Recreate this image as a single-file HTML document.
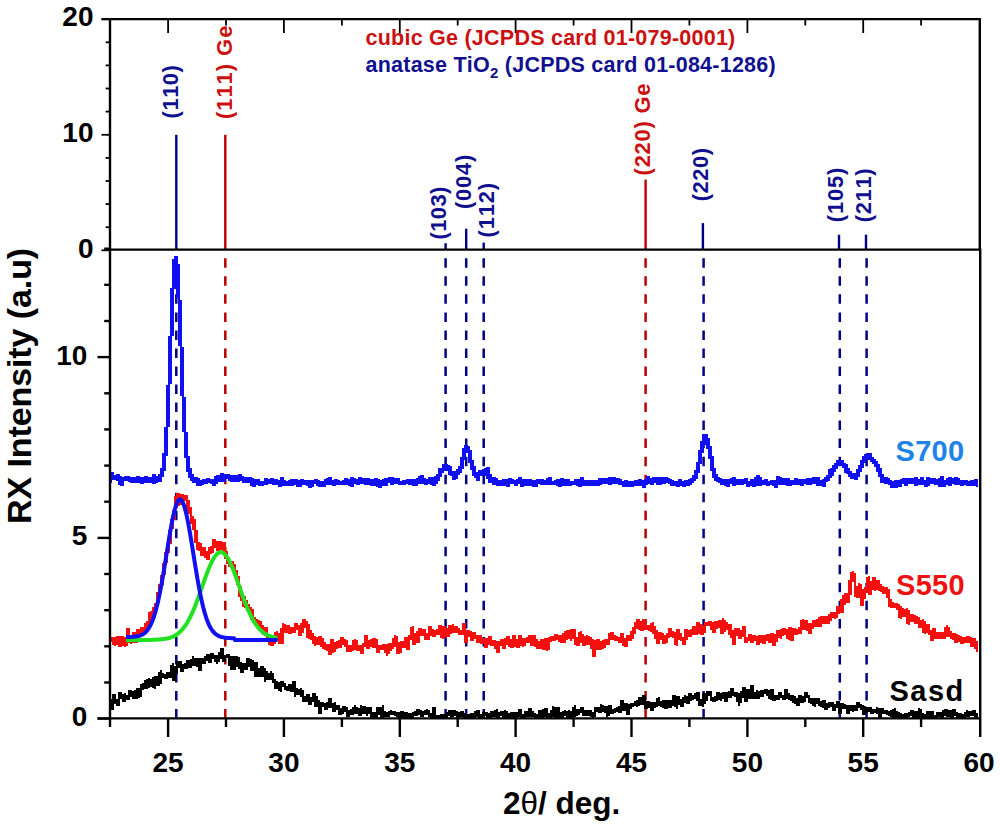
<!DOCTYPE html><html><head><meta charset="utf-8"><style>html,body{margin:0;padding:0;background:#fff}svg{display:block}text{font-kerning:none;font-feature-settings:"kern" 0}</style></head><body><svg width="1000" height="826" viewBox="0 0 1000 826">
<rect width="1000" height="826" fill="#fff"/>
<line x1="176.3" y1="134.8" x2="176.3" y2="250.0" stroke="#000085" stroke-width="2.4"/>
<line x1="225.3" y1="134.8" x2="225.3" y2="250.0" stroke="#b80000" stroke-width="2.4"/>
<line x1="445.6" y1="243.2" x2="445.6" y2="250.0" stroke="#000085" stroke-width="2.4"/>
<line x1="466.2" y1="228.7" x2="466.2" y2="250.0" stroke="#000085" stroke-width="2.4"/>
<line x1="483.7" y1="242.6" x2="483.7" y2="250.0" stroke="#000085" stroke-width="2.4"/>
<line x1="645.6" y1="179.6" x2="645.6" y2="250.0" stroke="#b80000" stroke-width="2.4"/>
<line x1="702.9" y1="223.1" x2="702.9" y2="250.0" stroke="#000085" stroke-width="2.4"/>
<line x1="839.0" y1="234.7" x2="839.0" y2="250.0" stroke="#000085" stroke-width="2.4"/>
<line x1="866.0" y1="234.7" x2="866.0" y2="250.0" stroke="#000085" stroke-width="2.4"/>
<line x1="176.3" y1="258.3" x2="176.3" y2="718.0" stroke="#000085" stroke-width="2.5" stroke-dasharray="9.5 8.53"/>
<line x1="225.3" y1="258.3" x2="225.3" y2="718.0" stroke="#b80000" stroke-width="2.5" stroke-dasharray="9.5 8.53"/>
<line x1="445.6" y1="258.3" x2="445.6" y2="718.0" stroke="#000085" stroke-width="2.5" stroke-dasharray="9.5 8.53"/>
<line x1="466.2" y1="258.3" x2="466.2" y2="718.0" stroke="#000085" stroke-width="2.5" stroke-dasharray="9.5 8.53"/>
<line x1="483.7" y1="258.3" x2="483.7" y2="718.0" stroke="#000085" stroke-width="2.5" stroke-dasharray="9.5 8.53"/>
<line x1="645.6" y1="258.3" x2="645.6" y2="718.0" stroke="#b80000" stroke-width="2.5" stroke-dasharray="9.5 8.53"/>
<line x1="703.6" y1="258.3" x2="703.6" y2="718.0" stroke="#000085" stroke-width="2.5" stroke-dasharray="9.5 8.53"/>
<line x1="839.8" y1="258.3" x2="839.8" y2="718.0" stroke="#000085" stroke-width="2.5" stroke-dasharray="9.5 8.53"/>
<line x1="866.6" y1="258.3" x2="866.6" y2="718.0" stroke="#000085" stroke-width="2.5" stroke-dasharray="9.5 8.53"/>
<path d="M110 699h2v11h-2zM112 694h2v16h-2zM114 694h2v10h-2zM116 699h2v7h-2zM118 692h2v14h-2zM120 692h2v7h-2zM122 694h2v8h-2zM124 693h2v9h-2zM126 695h2v5h-2zM128 690h2v10h-2zM130 690h2v7h-2zM132 691h2v8h-2zM134 690h2v9h-2zM136 688h2v11h-2zM138 688h2v10h-2zM140 684h2v13h-2zM142 683h2v7h-2zM144 680h2v9h-2zM146 679h2v10h-2zM148 678h2v10h-2zM150 679h2v8h-2zM152 677h2v11h-2zM154 676h2v13h-2zM156 676h2v10h-2zM158 672h2v14h-2zM160 670h2v14h-2zM162 673h2v5h-2zM164 674h2v5h-2zM166 672h2v7h-2zM168 672h2v6h-2zM170 665h2v13h-2zM172 663h2v18h-2zM174 666h2v15h-2zM176 661h2v13h-2zM178 661h2v7h-2zM180 661h2v11h-2zM182 664h2v8h-2zM184 663h2v6h-2zM186 660h2v9h-2zM188 660h2v8h-2zM190 659h2v9h-2zM192 656h2v10h-2zM194 658h2v8h-2zM196 658h2v9h-2zM198 658h2v13h-2zM200 658h2v13h-2zM202 658h2v6h-2zM204 656h2v8h-2zM206 654h2v7h-2zM208 654h2v9h-2zM210 653h2v10h-2zM212 653h2v6h-2zM214 655h2v7h-2zM216 655h2v9h-2zM218 652h2v10h-2zM220 648h2v11h-2zM222 648h2v14h-2zM224 655h2v7h-2zM226 654h2v4h-2zM228 654h2v12h-2zM230 656h2v14h-2zM232 656h2v14h-2zM234 656h2v14h-2zM236 656h2v11h-2zM238 657h2v12h-2zM240 662h2v11h-2zM242 663h2v10h-2zM244 663h2v7h-2zM246 658h2v12h-2zM248 658h2v9h-2zM250 659h2v12h-2zM252 660h2v11h-2zM254 662h2v15h-2zM256 662h2v15h-2zM258 668h2v9h-2zM260 666h2v11h-2zM262 666h2v11h-2zM264 668h2v14h-2zM266 671h2v9h-2zM268 673h2v7h-2zM270 671h2v9h-2zM272 673h2v10h-2zM274 679h2v10h-2zM276 681h2v8h-2zM278 682h2v9h-2zM280 681h2v11h-2zM282 681h2v6h-2zM284 683h2v7h-2zM286 686h2v5h-2zM288 684h2v7h-2zM290 684h2v8h-2zM292 681h2v11h-2zM294 681h2v16h-2zM296 688h2v7h-2zM298 689h2v6h-2zM300 688h2v9h-2zM302 690h2v12h-2zM304 696h2v6h-2zM306 694h2v8h-2zM308 694h2v11h-2zM310 697h2v8h-2zM312 693h2v9h-2zM314 693h2v14h-2zM316 696h2v11h-2zM318 700h2v14h-2zM320 702h2v12h-2zM322 702h2v5h-2zM324 703h2v7h-2zM326 702h2v8h-2zM328 698h2v10h-2zM330 698h2v10h-2zM332 703h2v9h-2zM334 702h2v10h-2zM336 705h2v5h-2zM338 705h2v10h-2zM340 708h2v7h-2zM342 706h2v8h-2zM344 706h2v6h-2zM346 707h2v10h-2zM348 710h2v7h-2zM350 709h2v6h-2zM352 707h2v8h-2zM354 705h2v9h-2zM356 707h2v7h-2zM358 708h2v8h-2zM360 705h2v11h-2zM362 706h2v8h-2zM364 706h2v8h-2zM366 707h2v9h-2zM368 707h2v7h-2zM370 707h2v12h-2zM372 712h2v7h-2zM374 712h2v7h-2zM376 707h2v12h-2zM378 707h2v8h-2zM380 707h2v12h-2zM382 705h2v14h-2zM384 711h2v6h-2zM386 712h2v5h-2zM388 711h2v6h-2zM390 710h2v5h-2zM392 711h2v4h-2zM394 711h2v5h-2zM396 712h2v5h-2zM398 712h2v6h-2zM400 711h2v8h-2zM402 711h2v8h-2zM404 712h2v7h-2zM406 712h2v7h-2zM408 713h2v6h-2zM410 713h2v6h-2zM412 712h2v7h-2zM414 711h2v5h-2zM416 709h2v7h-2zM418 709h2v6h-2zM420 710h2v7h-2zM422 711h2v6h-2zM424 710h2v5h-2zM426 709h2v6h-2zM428 710h2v7h-2zM430 713h2v5h-2zM432 707h2v11h-2zM434 707h2v12h-2zM436 715h2v4h-2zM438 715h2v4h-2zM440 714h2v5h-2zM442 714h2v5h-2zM444 714h2v5h-2zM446 712h2v6h-2zM448 710h2v6h-2zM450 710h2v8h-2zM452 710h2v7h-2zM454 710h2v6h-2zM456 711h2v8h-2zM458 712h2v6h-2zM460 711h2v6h-2zM462 711h2v8h-2zM464 713h2v5h-2zM466 714h2v5h-2zM468 714h2v5h-2zM470 713h2v5h-2zM472 713h2v6h-2zM474 711h2v8h-2zM476 710h2v7h-2zM478 710h2v8h-2zM480 714h2v4h-2zM482 712h2v6h-2zM484 712h2v4h-2zM486 712h2v7h-2zM488 713h2v6h-2zM490 711h2v8h-2zM492 711h2v6h-2zM494 710h2v7h-2zM496 709h2v10h-2zM498 712h2v7h-2zM500 711h2v5h-2zM502 711h2v7h-2zM504 710h2v8h-2zM506 711h2v7h-2zM508 713h2v6h-2zM510 712h2v6h-2zM512 712h2v7h-2zM514 712h2v7h-2zM516 712h2v6h-2zM518 709h2v8h-2zM520 709h2v10h-2zM522 714h2v5h-2zM524 711h2v7h-2zM526 711h2v6h-2zM528 708h2v9h-2zM530 708h2v9h-2zM532 711h2v6h-2zM534 713h2v5h-2zM536 714h2v4h-2zM538 710h2v8h-2zM540 710h2v8h-2zM542 709h2v9h-2zM544 708h2v9h-2zM546 708h2v11h-2zM548 713h2v6h-2zM550 710h2v8h-2zM552 706h2v11h-2zM554 707h2v11h-2zM556 707h2v11h-2zM558 707h2v11h-2zM560 712h2v6h-2zM562 711h2v7h-2zM564 710h2v6h-2zM566 711h2v7h-2zM568 710h2v8h-2zM570 711h2v7h-2zM572 707h2v11h-2zM574 705h2v12h-2zM576 709h2v7h-2zM578 709h2v6h-2zM580 707h2v6h-2zM582 707h2v9h-2zM584 710h2v6h-2zM586 710h2v6h-2zM588 710h2v6h-2zM590 710h2v7h-2zM592 712h2v6h-2zM594 707h2v10h-2zM596 707h2v5h-2zM598 707h2v6h-2zM600 704h2v9h-2zM602 705h2v7h-2zM604 706h2v7h-2zM606 706h2v11h-2zM608 705h2v11h-2zM610 705h2v9h-2zM612 709h2v5h-2zM614 708h2v5h-2zM616 707h2v5h-2zM618 706h2v7h-2zM620 700h2v13h-2zM622 700h2v11h-2zM624 703h2v8h-2zM626 703h2v12h-2zM628 704h2v11h-2zM630 703h2v6h-2zM632 703h2v4h-2zM634 701h2v5h-2zM636 700h2v7h-2zM638 697h2v9h-2zM640 697h2v8h-2zM642 695h2v10h-2zM644 695h2v14h-2zM646 701h2v8h-2zM648 701h2v7h-2zM650 702h2v9h-2zM652 702h2v9h-2zM654 702h2v6h-2zM656 698h2v9h-2zM658 697h2v9h-2zM660 701h2v6h-2zM662 700h2v8h-2zM664 700h2v9h-2zM666 700h2v9h-2zM668 700h2v8h-2zM670 700h2v8h-2zM672 695h2v11h-2zM674 695h2v12h-2zM676 696h2v13h-2zM678 696h2v9h-2zM680 699h2v8h-2zM682 697h2v10h-2zM684 695h2v8h-2zM686 696h2v8h-2zM688 693h2v11h-2zM690 693h2v8h-2zM692 695h2v5h-2zM694 693h2v6h-2zM696 692h2v9h-2zM698 692h2v14h-2zM700 699h2v7h-2zM702 693h2v14h-2zM704 693h2v11h-2zM706 691h2v10h-2zM708 691h2v5h-2zM710 691h2v10h-2zM712 697h2v5h-2zM714 696h2v6h-2zM716 692h2v9h-2zM718 692h2v8h-2zM720 693h2v8h-2zM722 692h2v7h-2zM724 692h2v10h-2zM726 692h2v10h-2zM728 691h2v7h-2zM730 688h2v10h-2zM732 688h2v8h-2zM734 692h2v5h-2zM736 692h2v10h-2zM738 693h2v13h-2zM740 691h2v12h-2zM742 687h2v11h-2zM744 687h2v15h-2zM746 689h2v13h-2zM748 689h2v10h-2zM750 685h2v14h-2zM752 685h2v14h-2zM754 692h2v7h-2zM756 690h2v9h-2zM758 691h2v8h-2zM760 690h2v7h-2zM762 690h2v7h-2zM764 689h2v5h-2zM766 689h2v7h-2zM768 690h2v9h-2zM770 689h2v11h-2zM772 689h2v12h-2zM774 695h2v6h-2zM776 695h2v5h-2zM778 692h2v8h-2zM780 692h2v6h-2zM782 695h2v5h-2zM784 689h2v11h-2zM786 689h2v10h-2zM788 693h2v7h-2zM790 695h2v6h-2zM792 695h2v8h-2zM794 696h2v8h-2zM796 698h2v8h-2zM798 695h2v11h-2zM800 695h2v8h-2zM802 696h2v7h-2zM804 692h2v10h-2zM806 692h2v6h-2zM808 695h2v8h-2zM810 698h2v6h-2zM812 698h2v8h-2zM814 698h2v9h-2zM816 698h2v6h-2zM818 698h2v8h-2zM820 701h2v6h-2zM822 700h2v8h-2zM824 700h2v10h-2zM826 703h2v7h-2zM828 702h2v6h-2zM830 702h2v5h-2zM832 702h2v9h-2zM834 704h2v7h-2zM836 701h2v7h-2zM838 701h2v13h-2zM840 703h2v11h-2zM842 703h2v6h-2zM844 704h2v5h-2zM846 705h2v9h-2zM848 705h2v9h-2zM850 705h2v6h-2zM852 705h2v7h-2zM854 705h2v6h-2zM856 702h2v9h-2zM858 702h2v6h-2zM860 704h2v6h-2zM862 705h2v10h-2zM864 706h2v9h-2zM866 707h2v6h-2zM868 707h2v5h-2zM870 707h2v7h-2zM872 709h2v5h-2zM874 709h2v4h-2zM876 707h2v7h-2zM878 708h2v10h-2zM880 708h2v10h-2zM882 708h2v6h-2zM884 710h2v4h-2zM886 710h2v5h-2zM888 711h2v5h-2zM890 710h2v7h-2zM892 709h2v9h-2zM894 708h2v11h-2zM896 711h2v8h-2zM898 712h2v7h-2zM900 713h2v6h-2zM902 714h2v4h-2zM904 713h2v5h-2zM906 713h2v5h-2zM908 712h2v5h-2zM910 710h2v6h-2zM912 710h2v9h-2zM914 711h2v8h-2zM916 711h2v7h-2zM918 708h2v10h-2zM920 709h2v9h-2zM922 713h2v6h-2zM924 714h2v5h-2zM926 711h2v8h-2zM928 711h2v8h-2zM930 711h2v8h-2zM932 711h2v7h-2zM934 715h2v4h-2zM936 712h2v7h-2zM938 712h2v5h-2zM940 712h2v7h-2zM942 710h2v9h-2zM944 709h2v7h-2zM946 709h2v8h-2zM948 710h2v7h-2zM950 710h2v8h-2zM952 709h2v9h-2zM954 709h2v7h-2zM956 712h2v6h-2zM958 713h2v5h-2zM960 713h2v6h-2zM962 714h2v5h-2zM964 712h2v7h-2zM966 710h2v7h-2zM968 711h2v6h-2zM970 711h2v5h-2zM972 710h2v6h-2zM974 710h2v8h-2zM976 713h2v5h-2z" fill="#000" shape-rendering="crispEdges"/>
<path d="M110 637h2v5h-2zM112 637h2v8h-2zM114 637h2v9h-2zM116 636h2v9h-2zM118 636h2v11h-2zM120 636h2v11h-2zM122 636h2v10h-2zM124 637h2v10h-2zM126 628h2v18h-2zM128 628h2v15h-2zM130 635h2v9h-2zM132 632h2v11h-2zM134 632h2v11h-2zM136 629h2v14h-2zM138 629h2v5h-2zM140 627h2v7h-2zM142 627h2v6h-2zM144 623h2v9h-2zM146 621h2v10h-2zM148 612h2v16h-2zM150 611h2v12h-2zM152 607h2v11h-2zM154 603h2v15h-2zM156 592h2v16h-2zM158 584h2v19h-2zM160 575h2v18h-2zM162 563h2v22h-2zM164 552h2v23h-2zM166 543h2v20h-2zM168 530h2v23h-2zM170 519h2v25h-2zM172 510h2v19h-2zM174 496h2v24h-2zM176 493h2v15h-2zM178 493h2v13h-2zM180 494h2v11h-2zM182 494h2v7h-2zM184 495h2v6h-2zM186 495h2v17h-2zM188 500h2v14h-2zM190 507h2v17h-2zM192 516h2v14h-2zM194 519h2v24h-2zM196 530h2v20h-2zM198 542h2v9h-2zM200 543h2v13h-2zM202 547h2v9h-2zM204 547h2v11h-2zM206 551h2v9h-2zM208 547h2v13h-2zM210 546h2v8h-2zM212 539h2v14h-2zM214 539h2v9h-2zM216 541h2v10h-2zM218 541h2v10h-2zM220 541h2v9h-2zM222 542h2v9h-2zM224 542h2v17h-2zM226 551h2v13h-2zM228 557h2v10h-2zM230 561h2v6h-2zM232 561h2v11h-2zM234 564h2v13h-2zM236 570h2v15h-2zM238 576h2v21h-2zM240 586h2v15h-2zM242 594h2v13h-2zM244 596h2v12h-2zM246 600h2v11h-2zM248 604h2v8h-2zM250 607h2v13h-2zM252 609h2v14h-2zM254 617h2v7h-2zM256 619h2v6h-2zM258 620h2v9h-2zM260 621h2v10h-2zM262 625h2v10h-2zM264 627h2v9h-2zM266 627h2v14h-2zM268 634h2v11h-2zM270 638h2v8h-2zM272 637h2v9h-2zM274 632h2v12h-2zM276 631h2v10h-2zM278 633h2v11h-2zM280 628h2v16h-2zM282 623h2v21h-2zM284 624h2v9h-2zM286 625h2v8h-2zM288 625h2v9h-2zM290 627h2v7h-2zM292 627h2v6h-2zM294 623h2v10h-2zM296 623h2v7h-2zM298 625h2v11h-2zM300 623h2v13h-2zM302 619h2v14h-2zM304 619h2v9h-2zM306 621h2v17h-2zM308 624h2v15h-2zM310 630h2v10h-2zM312 633h2v11h-2zM314 636h2v10h-2zM316 637h2v8h-2zM318 636h2v9h-2zM320 636h2v11h-2zM322 638h2v11h-2zM324 642h2v8h-2zM326 644h2v7h-2zM328 644h2v11h-2zM330 639h2v16h-2zM332 639h2v14h-2zM334 642h2v10h-2zM336 641h2v8h-2zM338 640h2v8h-2zM340 637h2v11h-2zM342 637h2v8h-2zM344 639h2v8h-2zM346 640h2v12h-2zM348 645h2v7h-2zM350 645h2v7h-2zM352 640h2v11h-2zM354 639h2v11h-2zM356 640h2v11h-2zM358 645h2v6h-2zM360 645h2v9h-2zM362 643h2v11h-2zM364 635h2v12h-2zM366 635h2v14h-2zM368 640h2v9h-2zM370 639h2v8h-2zM372 638h2v10h-2zM374 638h2v10h-2zM376 639h2v14h-2zM378 645h2v8h-2zM380 645h2v5h-2zM382 644h2v6h-2zM384 644h2v9h-2zM386 644h2v12h-2zM388 643h2v11h-2zM390 643h2v8h-2zM392 638h2v11h-2zM394 635h2v12h-2zM396 636h2v18h-2zM398 642h2v12h-2zM400 641h2v12h-2zM402 641h2v7h-2zM404 637h2v11h-2zM406 637h2v13h-2zM408 635h2v15h-2zM410 627h2v13h-2zM412 626h2v19h-2zM414 633h2v12h-2zM416 631h2v12h-2zM418 628h2v15h-2zM420 628h2v8h-2zM422 629h2v7h-2zM424 629h2v11h-2zM426 633h2v7h-2zM428 626h2v14h-2zM430 626h2v10h-2zM432 629h2v8h-2zM434 630h2v7h-2zM436 629h2v6h-2zM438 625h2v10h-2zM440 625h2v13h-2zM442 626h2v13h-2zM444 626h2v12h-2zM446 628h2v9h-2zM448 625h2v12h-2zM450 625h2v9h-2zM452 624h2v9h-2zM454 626h2v7h-2zM456 626h2v7h-2zM458 628h2v7h-2zM460 630h2v5h-2zM462 623h2v12h-2zM464 623h2v20h-2zM466 630h2v13h-2zM468 630h2v7h-2zM470 631h2v10h-2zM472 632h2v9h-2zM474 632h2v7h-2zM476 635h2v8h-2zM478 635h2v8h-2zM480 635h2v9h-2zM482 638h2v6h-2zM484 638h2v10h-2zM486 638h2v10h-2zM488 636h2v9h-2zM490 636h2v10h-2zM492 640h2v6h-2zM494 640h2v9h-2zM496 641h2v12h-2zM498 641h2v12h-2zM500 639h2v7h-2zM502 639h2v10h-2zM504 638h2v11h-2zM506 636h2v9h-2zM508 636h2v11h-2zM510 639h2v9h-2zM512 635h2v13h-2zM514 635h2v12h-2zM516 639h2v9h-2zM518 635h2v13h-2zM520 635h2v11h-2zM522 638h2v9h-2zM524 638h2v8h-2zM526 637h2v6h-2zM528 635h2v8h-2zM530 635h2v11h-2zM532 635h2v11h-2zM534 635h2v12h-2zM536 639h2v10h-2zM538 641h2v8h-2zM540 639h2v10h-2zM542 639h2v11h-2zM544 638h2v12h-2zM546 638h2v13h-2zM548 637h2v13h-2zM550 636h2v6h-2zM552 636h2v5h-2zM554 634h2v7h-2zM556 634h2v6h-2zM558 635h2v7h-2zM560 635h2v8h-2zM562 633h2v10h-2zM564 631h2v12h-2zM566 630h2v10h-2zM568 630h2v9h-2zM570 629h2v12h-2zM572 629h2v10h-2zM574 629h2v16h-2zM576 637h2v9h-2zM578 632h2v14h-2zM580 631h2v12h-2zM582 634h2v12h-2zM584 636h2v10h-2zM586 635h2v10h-2zM588 636h2v9h-2zM590 637h2v12h-2zM592 639h2v18h-2zM594 640h2v17h-2zM596 639h2v11h-2zM598 639h2v11h-2zM600 641h2v9h-2zM602 640h2v9h-2zM604 639h2v9h-2zM606 639h2v6h-2zM608 633h2v12h-2zM610 632h2v8h-2zM612 632h2v8h-2zM614 635h2v6h-2zM616 636h2v5h-2zM618 637h2v6h-2zM620 633h2v10h-2zM622 633h2v13h-2zM624 638h2v9h-2zM626 635h2v12h-2zM628 635h2v6h-2zM630 631h2v10h-2zM632 627h2v12h-2zM634 622h2v12h-2zM636 619h2v10h-2zM638 619h2v11h-2zM640 621h2v10h-2zM642 619h2v12h-2zM644 620h2v10h-2zM646 625h2v5h-2zM648 625h2v6h-2zM650 623h2v9h-2zM652 622h2v12h-2zM654 626h2v13h-2zM656 630h2v14h-2zM658 632h2v12h-2zM660 632h2v8h-2zM662 633h2v11h-2zM664 635h2v9h-2zM666 633h2v10h-2zM668 628h2v10h-2zM670 628h2v9h-2zM672 631h2v7h-2zM674 632h2v13h-2zM676 629h2v17h-2zM678 629h2v11h-2zM680 633h2v8h-2zM682 637h2v8h-2zM684 629h2v16h-2zM686 629h2v11h-2zM688 630h2v7h-2zM690 629h2v8h-2zM692 626h2v9h-2zM694 626h2v9h-2zM696 622h2v13h-2zM698 622h2v12h-2zM700 624h2v11h-2zM702 625h2v10h-2zM704 622h2v11h-2zM706 622h2v4h-2zM708 621h2v5h-2zM710 621h2v9h-2zM712 622h2v11h-2zM714 621h2v12h-2zM716 621h2v8h-2zM718 620h2v8h-2zM720 620h2v14h-2zM722 618h2v16h-2zM724 620h2v12h-2zM726 622h2v8h-2zM728 624h2v11h-2zM730 624h2v14h-2zM732 630h2v15h-2zM734 628h2v17h-2zM736 628h2v8h-2zM738 628h2v11h-2zM740 630h2v9h-2zM742 626h2v11h-2zM744 626h2v17h-2zM746 637h2v6h-2zM748 634h2v7h-2zM750 634h2v9h-2zM752 635h2v8h-2zM754 635h2v6h-2zM756 636h2v9h-2zM758 635h2v10h-2zM760 635h2v8h-2zM762 635h2v9h-2zM764 635h2v9h-2zM766 634h2v7h-2zM768 634h2v9h-2zM770 633h2v10h-2zM772 633h2v13h-2zM774 634h2v12h-2zM776 630h2v12h-2zM778 630h2v8h-2zM780 629h2v10h-2zM782 628h2v8h-2zM784 628h2v7h-2zM786 629h2v10h-2zM788 627h2v13h-2zM790 627h2v14h-2zM792 628h2v13h-2zM794 628h2v7h-2zM796 629h2v6h-2zM798 627h2v7h-2zM800 620h2v14h-2zM802 619h2v11h-2zM804 620h2v10h-2zM806 620h2v11h-2zM808 623h2v11h-2zM810 623h2v11h-2zM812 620h2v9h-2zM814 620h2v7h-2zM816 619h2v8h-2zM818 617h2v10h-2zM820 616h2v11h-2zM822 616h2v8h-2zM824 616h2v8h-2zM826 616h2v8h-2zM828 614h2v10h-2zM830 612h2v9h-2zM832 612h2v6h-2zM834 612h2v7h-2zM836 606h2v12h-2zM838 606h2v8h-2zM840 599h2v14h-2zM842 595h2v18h-2zM844 593h2v12h-2zM846 593h2v10h-2zM848 580h2v23h-2zM850 572h2v23h-2zM852 571h2v11h-2zM854 573h2v24h-2zM856 586h2v12h-2zM858 583h2v15h-2zM860 584h2v22h-2zM862 589h2v17h-2zM864 587h2v12h-2zM866 577h2v16h-2zM868 576h2v19h-2zM870 581h2v14h-2zM872 577h2v13h-2zM874 577h2v14h-2zM876 580h2v10h-2zM878 580h2v11h-2zM880 584h2v8h-2zM882 586h2v8h-2zM884 587h2v7h-2zM886 587h2v11h-2zM888 589h2v18h-2zM890 599h2v9h-2zM892 602h2v6h-2zM894 603h2v5h-2zM896 603h2v7h-2zM898 604h2v14h-2zM900 606h2v13h-2zM902 608h2v9h-2zM904 609h2v8h-2zM906 608h2v16h-2zM908 610h2v15h-2zM910 614h2v8h-2zM912 614h2v8h-2zM914 615h2v9h-2zM916 616h2v8h-2zM918 617h2v11h-2zM920 620h2v8h-2zM922 619h2v14h-2zM924 621h2v13h-2zM926 624h2v9h-2zM928 624h2v11h-2zM930 630h2v11h-2zM932 628h2v13h-2zM934 628h2v11h-2zM936 632h2v7h-2zM938 632h2v7h-2zM940 632h2v7h-2zM942 632h2v7h-2zM944 627h2v12h-2zM946 625h2v12h-2zM948 627h2v10h-2zM950 631h2v8h-2zM952 633h2v7h-2zM954 633h2v10h-2zM956 634h2v9h-2zM958 635h2v7h-2zM960 636h2v8h-2zM962 637h2v7h-2zM964 637h2v6h-2zM966 636h2v7h-2zM968 636h2v7h-2zM970 637h2v10h-2zM972 638h2v9h-2zM974 638h2v11h-2zM976 641h2v11h-2z" fill="#f51010" shape-rendering="crispEdges"/>
<path d="M110 472h2v11h-2zM112 472h2v8h-2zM114 475h2v5h-2zM116 474h2v7h-2zM118 474h2v11h-2zM120 476h2v10h-2zM122 477h2v9h-2zM124 476h2v5h-2zM126 476h2v5h-2zM128 476h2v6h-2zM130 477h2v6h-2zM132 477h2v6h-2zM134 477h2v6h-2zM136 476h2v7h-2zM138 476h2v7h-2zM140 477h2v7h-2zM142 477h2v7h-2zM144 476h2v7h-2zM146 476h2v7h-2zM148 477h2v6h-2zM150 477h2v6h-2zM152 474h2v10h-2zM154 474h2v10h-2zM156 476h2v7h-2zM158 474h2v8h-2zM160 468h2v14h-2zM162 453h2v24h-2zM164 427h2v44h-2zM166 385h2v71h-2zM168 336h2v91h-2zM170 288h2v96h-2zM172 259h2v77h-2zM174 256h2v33h-2zM176 256h2v42h-2zM178 264h2v82h-2zM180 300h2v96h-2zM182 347h2v85h-2zM184 397h2v61h-2zM186 432h2v40h-2zM188 456h2v22h-2zM190 468h2v13h-2zM192 474h2v9h-2zM194 477h2v6h-2zM196 477h2v9h-2zM198 478h2v8h-2zM200 480h2v6h-2zM202 479h2v6h-2zM204 479h2v5h-2zM206 478h2v6h-2zM208 478h2v5h-2zM210 479h2v5h-2zM212 479h2v7h-2zM214 476h2v10h-2zM216 475h2v9h-2zM218 475h2v7h-2zM220 473h2v9h-2zM222 473h2v9h-2zM224 474h2v8h-2zM226 474h2v5h-2zM228 474h2v7h-2zM230 475h2v7h-2zM232 475h2v7h-2zM234 475h2v7h-2zM236 475h2v7h-2zM238 474h2v8h-2zM240 474h2v7h-2zM242 476h2v7h-2zM244 477h2v6h-2zM246 477h2v6h-2zM248 477h2v6h-2zM250 477h2v9h-2zM252 478h2v9h-2zM254 479h2v8h-2zM256 479h2v6h-2zM258 479h2v7h-2zM260 481h2v5h-2zM262 481h2v5h-2zM264 478h2v7h-2zM266 478h2v7h-2zM268 479h2v5h-2zM270 478h2v6h-2zM272 478h2v7h-2zM274 479h2v6h-2zM276 479h2v6h-2zM278 480h2v7h-2zM280 477h2v10h-2zM282 477h2v9h-2zM284 480h2v6h-2zM286 481h2v5h-2zM288 480h2v6h-2zM290 479h2v7h-2zM292 479h2v7h-2zM294 479h2v6h-2zM296 479h2v8h-2zM298 480h2v7h-2zM300 479h2v8h-2zM302 479h2v6h-2zM304 480h2v5h-2zM306 480h2v6h-2zM308 480h2v8h-2zM310 480h2v8h-2zM312 480h2v7h-2zM314 479h2v5h-2zM316 479h2v7h-2zM318 480h2v7h-2zM320 481h2v6h-2zM322 481h2v6h-2zM324 479h2v8h-2zM326 478h2v7h-2zM328 477h2v8h-2zM330 477h2v8h-2zM332 480h2v6h-2zM334 479h2v7h-2zM336 479h2v6h-2zM338 480h2v5h-2zM340 481h2v4h-2zM342 480h2v5h-2zM344 478h2v7h-2zM346 478h2v7h-2zM348 479h2v7h-2zM350 477h2v10h-2zM352 477h2v10h-2zM354 478h2v6h-2zM356 479h2v6h-2zM358 477h2v8h-2zM360 477h2v7h-2zM362 478h2v6h-2zM364 478h2v7h-2zM366 478h2v7h-2zM368 478h2v7h-2zM370 479h2v7h-2zM372 479h2v7h-2zM374 478h2v8h-2zM376 478h2v9h-2zM378 479h2v9h-2zM380 480h2v8h-2zM382 479h2v7h-2zM384 478h2v8h-2zM386 478h2v8h-2zM388 477h2v6h-2zM390 477h2v8h-2zM392 477h2v8h-2zM394 478h2v6h-2zM396 478h2v6h-2zM398 478h2v7h-2zM400 481h2v4h-2zM402 480h2v5h-2zM404 480h2v5h-2zM406 479h2v5h-2zM408 479h2v6h-2zM410 479h2v6h-2zM412 479h2v7h-2zM414 479h2v7h-2zM416 478h2v8h-2zM418 476h2v8h-2zM420 475h2v9h-2zM422 475h2v9h-2zM424 478h2v7h-2zM426 479h2v6h-2zM428 477h2v7h-2zM430 477h2v8h-2zM432 477h2v9h-2zM434 476h2v10h-2zM436 474h2v10h-2zM438 468h2v13h-2zM440 468h2v9h-2zM442 464h2v9h-2zM444 464h2v7h-2zM446 464h2v7h-2zM448 465h2v10h-2zM450 466h2v10h-2zM452 471h2v9h-2zM454 471h2v9h-2zM456 469h2v10h-2zM458 466h2v9h-2zM460 457h2v16h-2zM462 448h2v21h-2zM464 445h2v15h-2zM466 445h2v8h-2zM468 446h2v17h-2zM470 450h2v20h-2zM472 460h2v16h-2zM474 466h2v12h-2zM476 472h2v9h-2zM478 470h2v11h-2zM480 470h2v6h-2zM482 469h2v7h-2zM484 468h2v8h-2zM486 467h2v12h-2zM488 467h2v16h-2zM490 474h2v9h-2zM492 477h2v8h-2zM494 477h2v8h-2zM496 478h2v8h-2zM498 480h2v6h-2zM500 480h2v6h-2zM502 479h2v7h-2zM504 479h2v7h-2zM506 479h2v8h-2zM508 478h2v9h-2zM510 478h2v6h-2zM512 479h2v5h-2zM514 480h2v6h-2zM516 479h2v7h-2zM518 477h2v7h-2zM520 477h2v10h-2zM522 479h2v8h-2zM524 479h2v7h-2zM526 479h2v7h-2zM528 479h2v7h-2zM530 479h2v7h-2zM532 480h2v7h-2zM534 480h2v7h-2zM536 479h2v8h-2zM538 479h2v5h-2zM540 479h2v6h-2zM542 479h2v6h-2zM544 480h2v5h-2zM546 478h2v7h-2zM548 477h2v8h-2zM550 477h2v8h-2zM552 481h2v4h-2zM554 480h2v5h-2zM556 479h2v7h-2zM558 479h2v8h-2zM560 478h2v9h-2zM562 478h2v8h-2zM564 479h2v7h-2zM566 479h2v7h-2zM568 479h2v7h-2zM570 481h2v5h-2zM572 481h2v4h-2zM574 479h2v6h-2zM576 479h2v7h-2zM578 479h2v8h-2zM580 477h2v10h-2zM582 477h2v9h-2zM584 480h2v6h-2zM586 480h2v6h-2zM588 480h2v6h-2zM590 480h2v6h-2zM592 480h2v6h-2zM594 480h2v6h-2zM596 480h2v6h-2zM598 478h2v8h-2zM600 478h2v7h-2zM602 478h2v6h-2zM604 478h2v6h-2zM606 478h2v6h-2zM608 477h2v8h-2zM610 477h2v8h-2zM612 477h2v7h-2zM614 477h2v7h-2zM616 478h2v6h-2zM618 478h2v7h-2zM620 479h2v6h-2zM622 481h2v6h-2zM624 480h2v7h-2zM626 480h2v7h-2zM628 481h2v6h-2zM630 481h2v6h-2zM632 481h2v6h-2zM634 480h2v6h-2zM636 480h2v6h-2zM638 479h2v7h-2zM640 479h2v7h-2zM642 480h2v8h-2zM644 479h2v9h-2zM646 476h2v9h-2zM648 476h2v8h-2zM650 478h2v7h-2zM652 477h2v8h-2zM654 477h2v6h-2zM656 477h2v8h-2zM658 477h2v8h-2zM660 477h2v8h-2zM662 477h2v7h-2zM664 477h2v7h-2zM666 477h2v6h-2zM668 478h2v6h-2zM670 479h2v7h-2zM672 480h2v6h-2zM674 481h2v5h-2zM676 481h2v6h-2zM678 479h2v8h-2zM680 479h2v7h-2zM682 481h2v6h-2zM684 480h2v7h-2zM686 480h2v6h-2zM688 479h2v7h-2zM690 478h2v7h-2zM692 475h2v8h-2zM694 470h2v11h-2zM696 462h2v17h-2zM698 450h2v23h-2zM700 441h2v23h-2zM702 434h2v19h-2zM704 434h2v11h-2zM706 434h2v15h-2zM708 438h2v21h-2zM710 446h2v25h-2zM712 456h2v22h-2zM714 468h2v13h-2zM716 474h2v8h-2zM718 477h2v6h-2zM720 478h2v7h-2zM722 479h2v6h-2zM724 479h2v7h-2zM726 479h2v8h-2zM728 479h2v8h-2zM730 478h2v6h-2zM732 477h2v9h-2zM734 477h2v9h-2zM736 479h2v6h-2zM738 479h2v6h-2zM740 479h2v6h-2zM742 479h2v6h-2zM744 478h2v6h-2zM746 478h2v9h-2zM748 481h2v6h-2zM750 479h2v7h-2zM752 479h2v8h-2zM754 477h2v10h-2zM756 475h2v11h-2zM758 475h2v11h-2zM760 477h2v9h-2zM762 480h2v5h-2zM764 479h2v6h-2zM766 479h2v7h-2zM768 481h2v5h-2zM770 480h2v5h-2zM772 480h2v6h-2zM774 480h2v8h-2zM776 476h2v12h-2zM778 476h2v9h-2zM780 477h2v8h-2zM782 478h2v7h-2zM784 478h2v7h-2zM786 478h2v8h-2zM788 478h2v8h-2zM790 480h2v6h-2zM792 480h2v5h-2zM794 478h2v7h-2zM796 478h2v7h-2zM798 479h2v6h-2zM800 479h2v7h-2zM802 479h2v7h-2zM804 479h2v5h-2zM806 478h2v7h-2zM808 478h2v7h-2zM810 478h2v7h-2zM812 477h2v7h-2zM814 477h2v7h-2zM816 477h2v9h-2zM818 477h2v9h-2zM820 480h2v6h-2zM822 479h2v8h-2zM824 477h2v10h-2zM826 475h2v7h-2zM828 469h2v12h-2zM830 468h2v10h-2zM832 465h2v11h-2zM834 463h2v9h-2zM836 460h2v9h-2zM838 460h2v6h-2zM840 460h2v6h-2zM842 460h2v8h-2zM844 463h2v10h-2zM846 464h2v10h-2zM848 468h2v9h-2zM850 471h2v8h-2zM852 473h2v6h-2zM854 473h2v7h-2zM856 469h2v11h-2zM858 465h2v12h-2zM860 460h2v12h-2zM862 456h2v12h-2zM864 454h2v9h-2zM866 453h2v6h-2zM868 453h2v7h-2zM870 453h2v9h-2zM872 457h2v7h-2zM874 459h2v8h-2zM876 461h2v11h-2zM878 464h2v13h-2zM880 468h2v15h-2zM882 474h2v9h-2zM884 477h2v7h-2zM886 477h2v7h-2zM888 478h2v7h-2zM890 480h2v8h-2zM892 481h2v7h-2zM894 480h2v8h-2zM896 480h2v8h-2zM898 480h2v7h-2zM900 479h2v8h-2zM902 478h2v6h-2zM904 478h2v8h-2zM906 478h2v8h-2zM908 478h2v6h-2zM910 478h2v6h-2zM912 478h2v6h-2zM914 477h2v9h-2zM916 477h2v9h-2zM918 479h2v6h-2zM920 477h2v8h-2zM922 477h2v8h-2zM924 480h2v7h-2zM926 477h2v10h-2zM928 477h2v9h-2zM930 478h2v6h-2zM932 478h2v6h-2zM934 478h2v7h-2zM936 479h2v6h-2zM938 478h2v9h-2zM940 476h2v11h-2zM942 476h2v11h-2zM944 480h2v7h-2zM946 478h2v7h-2zM948 477h2v9h-2zM950 477h2v9h-2zM952 478h2v6h-2zM954 477h2v8h-2zM956 477h2v8h-2zM958 478h2v7h-2zM960 480h2v6h-2zM962 480h2v6h-2zM964 480h2v5h-2zM966 480h2v6h-2zM968 481h2v5h-2zM970 480h2v6h-2zM972 480h2v6h-2zM974 479h2v7h-2zM976 479h2v8h-2z" fill="#1010f0" shape-rendering="crispEdges"/>
<path d="M126.0 640.2 126.5 640.2 127.0 640.2 127.5 640.2 128.0 640.2 128.5 640.2 129.0 640.2 129.5 640.2 130.0 640.2 130.5 640.2 131.0 640.1 131.5 640.1 132.0 640.1 132.5 640.1 133.0 640.1 133.5 640.1 134.0 640.1 134.5 640.1 135.0 640.1 135.5 640.1 136.0 640.1 136.5 640.1 137.0 640.1 137.5 640.1 138.0 640.1 138.5 640.1 139.0 640.1 139.5 640.1 140.0 640.0 140.5 640.0 141.0 640.0 141.5 640.0 142.0 640.0 142.5 640.0 143.0 640.0 143.5 640.0 144.0 640.0 144.5 640.0 145.0 640.0 145.5 640.0 146.0 640.0 146.5 640.0 147.0 639.9 147.5 639.9 148.0 639.9 148.5 639.9 149.0 639.9 149.5 639.9 150.0 639.9 150.5 639.9 151.0 639.9 151.5 639.9 152.0 639.8 152.5 639.8 153.0 639.8 153.5 639.8 154.0 639.8 154.5 639.8 155.0 639.7 155.5 639.7 156.0 639.7 156.5 639.7 157.0 639.6 157.5 639.6 158.0 639.6 158.5 639.5 159.0 639.5 159.5 639.5 160.0 639.4 160.5 639.4 161.0 639.3 161.5 639.3 162.0 639.2 162.5 639.2 163.0 639.1 163.5 639.1 164.0 639.0 164.5 638.9 165.0 638.8 165.5 638.8 166.0 638.7 166.5 638.6 167.0 638.5 167.5 638.4 168.0 638.2 168.5 638.1 169.0 638.0 169.5 637.8 170.0 637.7 170.5 637.5 171.0 637.4 171.5 637.2 172.0 637.0 172.5 636.8 173.0 636.6 173.5 636.3 174.0 636.1 174.5 635.8 175.0 635.5 175.5 635.3 176.0 635.0 176.5 634.6 177.0 634.3 177.5 633.9 178.0 633.6 178.5 633.2 179.0 632.8 179.5 632.3 180.0 631.9 180.5 631.4 181.0 630.9 181.5 630.4 182.0 629.8 182.5 629.2 183.0 628.7 183.5 628.0 184.0 627.4 184.5 626.7 185.0 626.0 185.5 625.3 186.0 624.5 186.5 623.8 187.0 623.0 187.5 622.1 188.0 621.3 188.5 620.4 189.0 619.4 189.5 618.5 190.0 617.5 190.5 616.5 191.0 615.5 191.5 614.4 192.0 613.3 192.5 612.2 193.0 611.1 193.5 609.9 194.0 608.7 194.5 607.5 195.0 606.3 195.5 605.0 196.0 603.7 196.5 602.4 197.0 601.1 197.5 599.8 198.0 598.4 198.5 597.0 199.0 595.7 199.5 594.3 200.0 592.8 200.5 591.4 201.0 590.0 201.5 588.6 202.0 587.2 202.5 585.7 203.0 584.3 203.5 582.9 204.0 581.5 204.5 580.0 205.0 578.6 205.5 577.2 206.0 575.9 206.5 574.5 207.0 573.2 207.5 571.9 208.0 570.6 208.5 569.3 209.0 568.1 209.5 566.9 210.0 565.7 210.5 564.6 211.0 563.5 211.5 562.4 212.0 561.4 212.5 560.4 213.0 559.5 213.5 558.6 214.0 557.8 214.5 557.0 215.0 556.3 215.5 555.6 216.0 555.0 216.5 554.5 217.0 554.0 217.5 553.5 218.0 553.1 218.5 552.8 219.0 552.6 219.5 552.4 220.0 552.3 220.5 552.2 221.0 552.2 221.5 552.3 222.0 552.4 222.5 552.6 223.0 552.8 223.5 553.2 224.0 553.5 224.5 554.0 225.0 554.5 225.5 555.0 226.0 555.6 226.5 556.3 227.0 557.0 227.5 557.8 228.0 558.6 228.5 559.5 229.0 560.4 229.5 561.4 230.0 562.4 230.5 563.5 231.0 564.6 231.5 565.7 232.0 566.9 232.5 568.1 233.0 569.3 233.5 570.6 234.0 571.8 234.5 573.2 235.0 574.5 235.5 575.8 236.0 577.2 236.5 578.6 237.0 580.0 237.5 581.4 238.0 582.8 238.5 584.2 239.0 585.6 239.5 587.0 240.0 588.5 240.5 589.9 241.0 591.3 241.5 592.7 242.0 594.1 242.5 595.5 243.0 596.8 243.5 598.2 244.0 599.5 244.5 600.9 245.0 602.2 245.5 603.5 246.0 604.7 246.5 606.0 247.0 607.2 247.5 608.4 248.0 609.6 248.5 610.7 249.0 611.8 249.5 612.9 250.0 614.0 250.5 615.1 251.0 616.1 251.5 617.1 252.0 618.0 252.5 619.0 253.0 619.9 253.5 620.7 254.0 621.6 254.5 622.4 255.0 623.2 255.5 624.0 256.0 624.7 256.5 625.4 257.0 626.1 257.5 626.7 258.0 627.4 258.5 628.0 259.0 628.6 259.5 629.1 260.0 629.6 260.5 630.1 261.0 630.6 261.5 631.1 262.0 631.5 262.5 632.0 263.0 632.4 263.5 632.7 264.0 633.1 264.5 633.4 265.0 633.8 265.5 634.1 266.0 634.4 266.5 634.6 267.0 634.9 267.5 635.1 268.0 635.4 268.5 635.6 269.0 635.8 269.5 636.0 270.0 636.2 270.5 636.3 271.0 636.5 271.5 636.6 272.0 636.8 272.5 636.9 273.0 637.0 273.5 637.2 274.0 637.3 274.5 637.4 275.0 637.4 275.5 637.5 276.0 637.6 276.5 637.7 277.0 637.8 277.5 637.8" fill="none" stroke="#22e022" stroke-width="4"/>
<path d="M126.0 637.0 126.5 637.0 127.0 637.0 127.5 637.0 128.0 637.0 128.5 636.9 129.0 636.9 129.5 636.9 130.0 636.9 130.5 636.9 131.0 636.9 131.5 636.9 132.0 636.8 132.5 636.8 133.0 636.8 133.5 636.8 134.0 636.7 134.5 636.7 135.0 636.6 135.5 636.6 136.0 636.5 136.5 636.4 137.0 636.3 137.5 636.2 138.0 636.1 138.5 636.0 139.0 635.9 139.5 635.7 140.0 635.6 140.5 635.4 141.0 635.2 141.5 635.0 142.0 634.7 142.5 634.5 143.0 634.2 143.5 633.9 144.0 633.5 144.5 633.1 145.0 632.7 145.5 632.3 146.0 631.8 146.5 631.2 147.0 630.6 147.5 630.0 148.0 629.3 148.5 628.6 149.0 627.8 149.5 627.0 150.0 626.1 150.5 625.1 151.0 624.1 151.5 623.0 152.0 621.8 152.5 620.6 153.0 619.3 153.5 617.9 154.0 616.4 154.5 614.9 155.0 613.2 155.5 611.5 156.0 609.7 156.5 607.8 157.0 605.8 157.5 603.8 158.0 601.6 158.5 599.4 159.0 597.1 159.5 594.7 160.0 592.2 160.5 589.6 161.0 587.0 161.5 584.3 162.0 581.5 162.5 578.7 163.0 575.8 163.5 572.8 164.0 569.8 164.5 566.8 165.0 563.7 165.5 560.6 166.0 557.5 166.5 554.4 167.0 551.3 167.5 548.2 168.0 545.1 168.5 542.0 169.0 538.9 169.5 535.9 170.0 533.0 170.5 530.1 171.0 527.3 171.5 524.6 172.0 522.0 172.5 519.4 173.0 517.0 173.5 514.7 174.0 512.6 174.5 510.6 175.0 508.7 175.5 507.0 176.0 505.4 176.5 504.0 177.0 502.8 177.5 501.8 178.0 500.9 178.5 500.3 179.0 499.8 179.5 499.5 180.0 499.4 180.5 499.5 181.0 499.8 181.5 500.3 182.0 501.0 182.5 501.8 183.0 502.9 183.5 504.1 184.0 505.5 184.5 507.1 185.0 508.8 185.5 510.7 186.0 512.7 186.5 514.9 187.0 517.2 187.5 519.6 188.0 522.1 188.5 524.8 189.0 527.5 189.5 530.3 190.0 533.2 190.5 536.2 191.0 539.2 191.5 542.2 192.0 545.3 192.5 548.4 193.0 551.6 193.5 554.7 194.0 557.9 194.5 561.0 195.0 564.1 195.5 567.2 196.0 570.2 196.5 573.2 197.0 576.2 197.5 579.1 198.0 581.9 198.5 584.7 199.0 587.4 199.5 590.1 200.0 592.6 200.5 595.1 201.0 597.6 201.5 599.9 202.0 602.1 202.5 604.3 203.0 606.4 203.5 608.3 204.0 610.2 204.5 612.1 205.0 613.8 205.5 615.4 206.0 617.0 206.5 618.5 207.0 619.9 207.5 621.2 208.0 622.5 208.5 623.7 209.0 624.8 209.5 625.8 210.0 626.8 210.5 627.7 211.0 628.5 211.5 629.3 212.0 630.1 212.5 630.8 213.0 631.4 213.5 632.0 214.0 632.5 214.5 633.0 215.0 633.5 215.5 633.9 216.0 634.3 216.5 634.7 217.0 635.0 217.5 635.3 218.0 635.6 218.5 635.9 219.0 636.1 219.5 636.3 220.0 636.5 220.5 636.7 221.0 636.8 221.5 637.0 222.0 637.1 222.5 637.2 223.0 637.3 223.5 637.4 224.0 637.5 224.5 637.6 225.0 637.7 225.5 637.7 226.0 637.8 226.5 637.8 227.0 637.9 227.5 637.9 228.0 638.0 228.5 638.0 229.0 638.0 229.5 638.1 230.0 638.1 230.5 638.1 231.0 638.2 231.5 638.2 232.0 638.2 232.5 638.2 233.0 638.2 233.5 638.2 234.0 638.3 234.5 639.1 235.0 640.0 235.5 640.0 236.0 640.0 236.5 640.0 237.0 640.0 237.5 640.0 238.0 640.0 238.5 640.0 239.0 640.0 239.5 640.0 240.0 640.0 240.5 640.0 241.0 640.0 241.5 640.0 242.0 640.0 242.5 640.0 243.0 640.0 243.5 640.0 244.0 640.0 244.5 640.0 245.0 640.0 245.5 640.0 246.0 640.0 246.5 640.0 247.0 640.0 247.5 640.0 248.0 640.0 248.5 640.0 249.0 640.0 249.5 640.0 250.0 640.0 250.5 640.0 251.0 640.0 251.5 640.0 252.0 640.0 252.5 640.0 253.0 640.0 253.5 640.0 254.0 640.0 254.5 640.0 255.0 640.0 255.5 640.0 256.0 640.0 256.5 640.0 257.0 640.0 257.5 640.0 258.0 640.0 258.5 640.0 259.0 640.0 259.5 640.0 260.0 640.0 260.5 640.0 261.0 640.0 261.5 640.0 262.0 640.0 262.5 640.0 263.0 640.0 263.5 640.0 264.0 640.0 264.5 640.0 265.0 640.0 265.5 640.0 266.0 640.0 266.5 640.0 267.0 640.0 267.5 640.0 268.0 640.0 268.5 640.0 269.0 640.0 269.5 640.0 270.0 640.0 270.5 640.0 271.0 640.0 271.5 640.0 272.0 640.0 272.5 640.0 273.0 640.0 273.5 640.0 274.0 640.0 274.5 640.0 275.0 640.0 275.5 640.0 276.0 640.0 276.5 640.0 277.0 640.0 277.5 640.0" fill="none" stroke="#1010f0" stroke-width="4"/>
<path d="M101.5 19.1H979.8V250M110 19.1V250.3" stroke="#000" stroke-width="2.4" fill="none" stroke-width="1.8"/>
<line x1="101.5" y1="250.3" x2="110" y2="250.3" stroke="#000" stroke-width="1.8"/>
<line x1="105.6" y1="227.2" x2="110" y2="227.2" stroke="#000" stroke-width="1.8"/>
<line x1="105.6" y1="204.1" x2="110" y2="204.1" stroke="#000" stroke-width="1.8"/>
<line x1="105.6" y1="181.0" x2="110" y2="181.0" stroke="#000" stroke-width="1.8"/>
<line x1="105.6" y1="157.9" x2="110" y2="157.9" stroke="#000" stroke-width="1.8"/>
<line x1="101.5" y1="134.8" x2="110" y2="134.8" stroke="#000" stroke-width="1.8"/>
<line x1="105.6" y1="111.6" x2="110" y2="111.6" stroke="#000" stroke-width="1.8"/>
<line x1="105.6" y1="88.5" x2="110" y2="88.5" stroke="#000" stroke-width="1.8"/>
<line x1="105.6" y1="65.4" x2="110" y2="65.4" stroke="#000" stroke-width="1.8"/>
<line x1="105.6" y1="42.3" x2="110" y2="42.3" stroke="#000" stroke-width="1.8"/>
<line x1="101.5" y1="19.2" x2="110" y2="19.2" stroke="#000" stroke-width="1.8"/>
<line x1="168.1" y1="19" x2="168.1" y2="33" stroke="#000" stroke-width="1.8"/>
<line x1="226.0" y1="19" x2="226.0" y2="25.5" stroke="#000" stroke-width="1.8"/>
<line x1="283.9" y1="19" x2="283.9" y2="33" stroke="#000" stroke-width="1.8"/>
<line x1="341.9" y1="19" x2="341.9" y2="25.5" stroke="#000" stroke-width="1.8"/>
<line x1="399.8" y1="19" x2="399.8" y2="33" stroke="#000" stroke-width="1.8"/>
<line x1="457.7" y1="19" x2="457.7" y2="25.5" stroke="#000" stroke-width="1.8"/>
<line x1="515.6" y1="19" x2="515.6" y2="33" stroke="#000" stroke-width="1.8"/>
<line x1="573.6" y1="19" x2="573.6" y2="25.5" stroke="#000" stroke-width="1.8"/>
<line x1="631.5" y1="19" x2="631.5" y2="33" stroke="#000" stroke-width="1.8"/>
<line x1="689.4" y1="19" x2="689.4" y2="25.5" stroke="#000" stroke-width="1.8"/>
<line x1="747.4" y1="19" x2="747.4" y2="33" stroke="#000" stroke-width="1.8"/>
<line x1="805.3" y1="19" x2="805.3" y2="25.5" stroke="#000" stroke-width="1.8"/>
<line x1="863.2" y1="19" x2="863.2" y2="33" stroke="#000" stroke-width="1.8"/>
<line x1="921.1" y1="19" x2="921.1" y2="25.5" stroke="#000" stroke-width="1.8"/>
<path d="M110 249.6H980.2V737M97.5 718.4H980.2M110 249.6V727" stroke="#000" stroke-width="2.4" fill="none"/>
<line x1="97.5" y1="718.6" x2="110" y2="718.6" stroke="#000" stroke-width="2.4"/>
<line x1="104.2" y1="682.5" x2="110" y2="682.5" stroke="#000" stroke-width="2.4"/>
<line x1="104.2" y1="646.3" x2="110" y2="646.3" stroke="#000" stroke-width="2.4"/>
<line x1="104.2" y1="610.2" x2="110" y2="610.2" stroke="#000" stroke-width="2.4"/>
<line x1="104.2" y1="574.0" x2="110" y2="574.0" stroke="#000" stroke-width="2.4"/>
<line x1="97.5" y1="537.9" x2="110" y2="537.9" stroke="#000" stroke-width="2.4"/>
<line x1="104.2" y1="501.7" x2="110" y2="501.7" stroke="#000" stroke-width="2.4"/>
<line x1="104.2" y1="465.6" x2="110" y2="465.6" stroke="#000" stroke-width="2.4"/>
<line x1="104.2" y1="429.4" x2="110" y2="429.4" stroke="#000" stroke-width="2.4"/>
<line x1="104.2" y1="393.3" x2="110" y2="393.3" stroke="#000" stroke-width="2.4"/>
<line x1="97.5" y1="357.1" x2="110" y2="357.1" stroke="#000" stroke-width="2.4"/>
<line x1="104.2" y1="321.0" x2="110" y2="321.0" stroke="#000" stroke-width="2.4"/>
<line x1="104.2" y1="284.8" x2="110" y2="284.8" stroke="#000" stroke-width="2.4"/>
<line x1="104.2" y1="248.7" x2="110" y2="248.7" stroke="#000" stroke-width="2.4"/>
<line x1="168.1" y1="718" x2="168.1" y2="737" stroke="#000" stroke-width="2.4"/>
<line x1="226.0" y1="718" x2="226.0" y2="727" stroke="#000" stroke-width="2.4"/>
<line x1="283.9" y1="718" x2="283.9" y2="737" stroke="#000" stroke-width="2.4"/>
<line x1="341.9" y1="718" x2="341.9" y2="727" stroke="#000" stroke-width="2.4"/>
<line x1="399.8" y1="718" x2="399.8" y2="737" stroke="#000" stroke-width="2.4"/>
<line x1="457.7" y1="718" x2="457.7" y2="727" stroke="#000" stroke-width="2.4"/>
<line x1="515.6" y1="718" x2="515.6" y2="737" stroke="#000" stroke-width="2.4"/>
<line x1="573.6" y1="718" x2="573.6" y2="727" stroke="#000" stroke-width="2.4"/>
<line x1="631.5" y1="718" x2="631.5" y2="737" stroke="#000" stroke-width="2.4"/>
<line x1="689.4" y1="718" x2="689.4" y2="727" stroke="#000" stroke-width="2.4"/>
<line x1="747.4" y1="718" x2="747.4" y2="737" stroke="#000" stroke-width="2.4"/>
<line x1="805.3" y1="718" x2="805.3" y2="727" stroke="#000" stroke-width="2.4"/>
<line x1="863.2" y1="718" x2="863.2" y2="737" stroke="#000" stroke-width="2.4"/>
<line x1="921.1" y1="718" x2="921.1" y2="727" stroke="#000" stroke-width="2.4"/>
<text x="93.5" y="26.3" font-family="Liberation Sans, sans-serif" font-weight="bold" font-size="28" text-anchor="end">20</text>
<text x="93.5" y="142.3" font-family="Liberation Sans, sans-serif" font-weight="bold" font-size="28" text-anchor="end">10</text>
<text x="93.5" y="257.6" font-family="Liberation Sans, sans-serif" font-weight="bold" font-size="28" text-anchor="end">0</text>
<text x="87.3" y="365.3" font-family="Liberation Sans, sans-serif" font-weight="bold" font-size="28" text-anchor="end">10</text>
<text x="87.3" y="545.2" font-family="Liberation Sans, sans-serif" font-weight="bold" font-size="28" text-anchor="end">5</text>
<text x="87.3" y="726.2" font-family="Liberation Sans, sans-serif" font-weight="bold" font-size="28" text-anchor="end">0</text>
<text x="168.1" y="771.6" font-family="Liberation Sans, sans-serif" font-weight="bold" font-size="28" text-anchor="middle">25</text>
<text x="283.9" y="771.6" font-family="Liberation Sans, sans-serif" font-weight="bold" font-size="28" text-anchor="middle">30</text>
<text x="399.8" y="771.6" font-family="Liberation Sans, sans-serif" font-weight="bold" font-size="28" text-anchor="middle">35</text>
<text x="515.6" y="771.6" font-family="Liberation Sans, sans-serif" font-weight="bold" font-size="28" text-anchor="middle">40</text>
<text x="631.5" y="771.6" font-family="Liberation Sans, sans-serif" font-weight="bold" font-size="28" text-anchor="middle">45</text>
<text x="747.4" y="771.6" font-family="Liberation Sans, sans-serif" font-weight="bold" font-size="28" text-anchor="middle">50</text>
<text x="863.2" y="771.6" font-family="Liberation Sans, sans-serif" font-weight="bold" font-size="28" text-anchor="middle">55</text>
<text x="979.1" y="771.6" font-family="Liberation Sans, sans-serif" font-weight="bold" font-size="28" text-anchor="middle">60</text>
<text transform="translate(30.8 524) rotate(-90)" font-family="Liberation Sans, sans-serif" font-weight="bold" font-size="34" letter-spacing="-0.09">RX Intensity (a.u)</text>
<text x="503" y="813.6" font-family="Liberation Sans, sans-serif" font-weight="bold" font-size="31.5">2<tspan font-weight="normal">θ</tspan>/ deg.</text>
<text x="365.5" y="45.3" font-family="Liberation Sans, sans-serif" font-weight="bold" font-size="21.5" letter-spacing="0.24" fill="#cc1010">cubic Ge (JCPDS card 01-079-0001)</text>
<text x="365.5" y="71.7" font-family="Liberation Sans, sans-serif" font-weight="bold" font-size="21.5" letter-spacing="0.24" fill="#10108f">anatase TiO<tspan font-size="15" dy="6">2</tspan><tspan dy="-6"> (JCPDS card 01-084-1286)</tspan></text>
<text transform="translate(178.0 118.4) rotate(-90)" font-family="Liberation Sans, sans-serif" font-weight="bold" font-size="22" letter-spacing="0.49" fill="#10108f">(110)</text>
<text transform="translate(231.5 119.0) rotate(-90)" font-family="Liberation Sans, sans-serif" font-weight="bold" font-size="22" letter-spacing="0.94" fill="#cc1010">(111) Ge</text>
<text transform="translate(445.7 239.6) rotate(-90)" font-family="Liberation Sans, sans-serif" font-weight="bold" font-size="22" letter-spacing="0.42" fill="#10108f">(103)</text>
<text transform="translate(471.0 209.0) rotate(-90)" font-family="Liberation Sans, sans-serif" font-weight="bold" font-size="22" letter-spacing="0.76" fill="#10108f">(004)</text>
<text transform="translate(494.0 237.4) rotate(-90)" font-family="Liberation Sans, sans-serif" font-weight="bold" font-size="22" letter-spacing="0.78" fill="#10108f">(112)</text>
<text transform="translate(650.2 175.4) rotate(-90)" font-family="Liberation Sans, sans-serif" font-weight="bold" font-size="22" letter-spacing="0.73" fill="#cc1010">(220) Ge</text>
<text transform="translate(708.1 201.2) rotate(-90)" font-family="Liberation Sans, sans-serif" font-weight="bold" font-size="22" letter-spacing="0.49" fill="#10108f">(220)</text>
<text transform="translate(843.4 222.2) rotate(-90)" font-family="Liberation Sans, sans-serif" font-weight="bold" font-size="22" letter-spacing="0.8" fill="#10108f">(105)</text>
<text transform="translate(870.8 222.2) rotate(-90)" font-family="Liberation Sans, sans-serif" font-weight="bold" font-size="22" letter-spacing="0.6" fill="#10108f">(211)</text>
<text x="895.5" y="460.5" font-family="Liberation Sans, sans-serif" font-weight="bold" font-size="29" letter-spacing="0.3" fill="#1e82e6">S700</text>
<text x="896" y="595.3" font-family="Liberation Sans, sans-serif" font-weight="bold" font-size="29" letter-spacing="0.3" fill="#ee1111">S550</text>
<text x="889.5" y="700.5" font-family="Liberation Sans, sans-serif" font-weight="bold" font-size="29" letter-spacing="1.47" fill="#000">Sasd</text>
</svg></body></html>
